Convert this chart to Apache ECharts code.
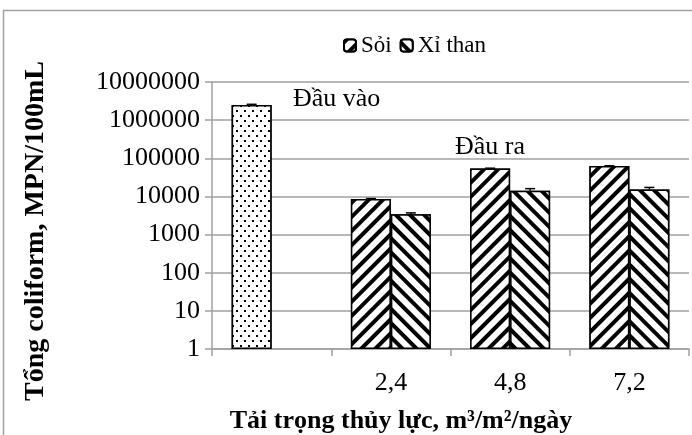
<!DOCTYPE html>
<html>
<head>
<meta charset="utf-8">
<script src="https://cdn.jsdelivr.net/npm/echarts@6/dist/echarts.min.js"></script>
<style>
  html, body { margin: 0; padding: 0; background: #fff; }
  #chart { width: 692px; height: 435px; }
</style>
</head>
<body>
<div id="chart"></div>
<script>
// Hydraulic loading rate categories (first slot holds the influent bar)
const categories = ['', '2,4', '4,8', '7,2'];

// Total coliform, MPN/100mL
const inflowValue = 2500000;
const inflowErr = 100000;
const soiValues = [8500, 54000, 62500];
const soiErr = [300, 1000, 1200];
const xiThanValues = [3400, 14000, 15200];
const xiThanErr = [300, 2000, 2000];

const FONT = '"Liberation Serif", "Times New Roman", serif';
const GRID_COLOR = '#a0a0a0';
const BAR_W = 40;

const hatchUp = {
  symbol: 'rect', symbolSize: 1, color: '#000', backgroundColor: '#fff',
  dashArrayX: [1, 0], dashArrayY: [4, 5.4], rotation: -Math.PI / 4
};
const hatchDown = {
  symbol: 'rect', symbolSize: 1, color: '#000', backgroundColor: '#fff',
  dashArrayX: [1, 0], dashArrayY: [4, 5.4], rotation: Math.PI / 4
};
const dots = {
  symbol: 'rect', symbolSize: 1, color: '#000', backgroundColor: '#fff',
  dashArrayX: [[1.5, 5.5], [0, 3.5, 1.5, 2]], dashArrayY: [1.5, 2.5], rotation: 0
};

const soiData = [
  { value: inflowValue, itemStyle: { decal: dots } }
].concat(soiValues);
const xiThanData = ['-'].concat(xiThanValues);

// error bar records: [category index, value, error, side (-1 left slot, +1 right slot)]
const errData = [[0, inflowValue, inflowErr, -1]];
soiValues.forEach((v, i) => errData.push([i + 1, v, soiErr[i], -1]));
xiThanValues.forEach((v, i) => errData.push([i + 1, v, xiThanErr[i], 1]));

const chart = echarts.init(document.getElementById('chart'));
chart.setOption({
  animation: false,
  backgroundColor: '#fff',
  textStyle: { fontFamily: FONT },
  grid: { left: 212, right: 3, top: 82, bottom: 86, containLabel: false },
  legend: {
    top: 29, left: 338,
    itemWidth: 12, itemHeight: 12, itemGap: 8,
    textStyle: { fontFamily: FONT, fontSize: 23, color: '#000' },
    data: ['Sỏi', 'Xỉ than']
  },
  xAxis: {
    type: 'category',
    data: categories,
    axisLine: { lineStyle: { color: GRID_COLOR, width: 1.5 } },
    axisTick: { show: true, length: 7, lineStyle: { color: GRID_COLOR, width: 1.5 } },
    axisLabel: { fontFamily: FONT, fontSize: 26, color: '#000', margin: 21 }
  },
  yAxis: {
    type: 'log', logBase: 10, min: 1, max: 10000000,
    axisLine: { show: true, lineStyle: { color: GRID_COLOR, width: 1.5 } },
    axisTick: { show: true, length: 7, lineStyle: { color: GRID_COLOR, width: 1.5 } },
    splitLine: { show: true, lineStyle: { color: GRID_COLOR, width: 1.5 } },
    axisLabel: {
      fontFamily: FONT, fontSize: 26, color: '#000', margin: 12,
      formatter: v => String(Math.round(v))
    }
  },
  series: [
    {
      name: 'Sỏi', type: 'bar', barWidth: BAR_W, barGap: '0%',
      itemStyle: { color: '#fff', borderColor: '#000', borderWidth: 1.5, decal: hatchUp },
      data: soiData
    },
    {
      name: 'Xỉ than', type: 'bar', barWidth: BAR_W, barGap: '0%',
      itemStyle: { color: '#fff', borderColor: '#000', borderWidth: 1.5, decal: hatchDown },
      data: xiThanData
    },
    {
      type: 'custom',
      silent: true,
      z: 5,
      data: errData,
      renderItem: function (params, api) {
        const cat = api.value(0), val = api.value(1), err = api.value(2), side = api.value(3);
        const top = api.coord([cat, val + err]);
        const base = api.coord([cat, val]);
        const x = top[0] + side * BAR_W / 2;
        const capHalf = 5;
        const style = { stroke: '#000', lineWidth: 1.5 };
        return {
          type: 'group',
          children: [
            { type: 'line', shape: { x1: x, y1: base[1], x2: x, y2: top[1] }, style },
            { type: 'line', shape: { x1: x - capHalf, y1: top[1], x2: x + capHalf, y2: top[1] }, style }
          ]
        };
      }
    }
  ],
  graphic: [
    {
      type: 'rect', silent: true, z: -1,
      shape: { x: 3.5, y: 10.5, width: 720, height: 460 },
      style: { fill: 'none', stroke: '#a0a0a0', lineWidth: 1.5 }
    },
    {
      type: 'text', left: 293, top: 86,
      style: { text: 'Đầu vào', font: '26px ' + FONT, fill: '#000' }
    },
    {
      type: 'text', left: 455, top: 134,
      style: { text: 'Đầu ra', font: '26px ' + FONT, fill: '#000' }
    },
    {
      type: 'text', x: 401, y: 421,
      style: {
        text: 'Tải trọng thủy lực, m³/m²/ngày',
        font: 'bold 26px ' + FONT, fill: '#000', align: 'center', verticalAlign: 'middle'
      }
    },
    {
      type: 'text', x: 36, y: 231, rotation: Math.PI / 2,
      style: {
        text: 'Tổng coliform, MPN/100mL',
        font: 'bold 28px ' + FONT, fill: '#000', align: 'center', verticalAlign: 'middle'
      }
    }
  ]
});
</script>
</body>
</html>
